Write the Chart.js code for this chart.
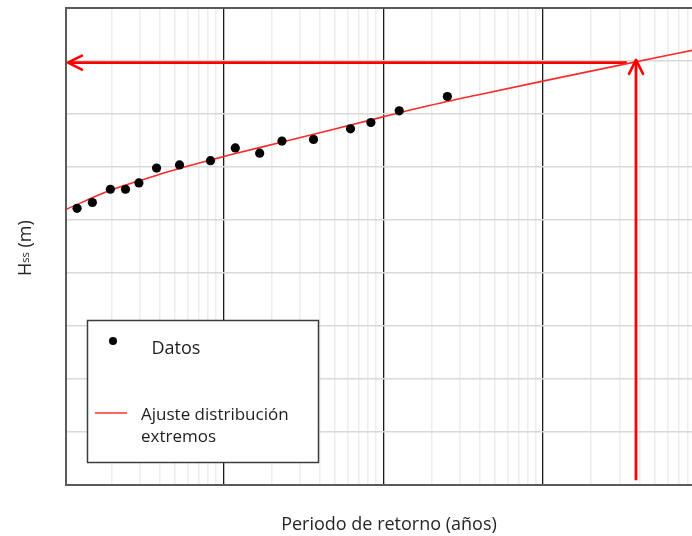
<!DOCTYPE html>
<html>
<head>
<meta charset="utf-8">
<script src="https://cdn.jsdelivr.net/npm/chart.js@4/dist/chart.umd.min.js"></script>
<style>
    html, body { margin: 0; padding: 0; background: #fff; }
    #wrap { width: 692px; height: 536px; }
</style>
</head>
<body>
<div id="wrap"><canvas id="myChart" width="692" height="536"></canvas></div>
<script>
//---------------data
const datos_T = [1.22, 1.52, 1.97, 2.45, 2.97, 3.83, 5.33, 8.33, 11.9, 16.9, 23.3, 36.7, 62.5, 83.8, 126, 252];
const datos_H = [5.22, 5.33, 5.58, 5.58, 5.70, 5.98, 6.04, 6.12, 6.36, 6.26, 6.49, 6.52, 6.72, 6.84, 7.06, 7.33];

const ajuste_T = [1.04, 1.97, 2.99, 3.81, 5.31, 8.29, 11.4, 23.4, 101, 183, 376, 1030, 3350, 8530];
const ajuste_H = [5.20, 5.56, 5.74, 5.84, 5.97, 6.13, 6.24, 6.47, 6.95, 7.14, 7.35, 7.63, 7.95, 8.20];

// reading arrows (return period -> Hs)
const flecha_h_T = [3340, 1.07];
const flecha_h_H = [7.97, 7.97];
const flecha_v_T = [3810, 3810];
const flecha_v_H = [0.09, 8.02];

const x_decadas = [1, 10, 100, 1000];
const x_menores = [2, 3, 4, 5, 6, 7, 8, 9];

const txt_x = 'Periodo de retorno (años)';
const txt_y = ['H', 'ss', ' (m)'];
const txt_datos = 'Datos';
const txt_ajuste = ['Ajuste distribución', 'extremos'];

function pares(xs, ys) {
    return xs.map((x, i) => ({ x: x, y: ys[i] }));
}

function es_decada(v) {
    const l = Math.log10(v);
    return Math.abs(l - Math.round(l)) < 1e-6;
}

// ----------arrow heads, legend box and axis titles
const extras = {
    id: 'extras',
    afterDatasetsDraw(chart) {
        const ctx = chart.ctx;
        chart.data.datasets.forEach((ds, i) => {
            if (!ds.flecha) return;
            const pts = chart.getDatasetMeta(i).data;
            const a = pts[pts.length - 2];
            const b = pts[pts.length - 1];
            const ang = Math.atan2(b.y - a.y, b.x - a.x);
            const c = Math.cos(ang), s = Math.sin(ang);
            ctx.save();
            ctx.strokeStyle = ds.borderColor;
            ctx.lineWidth = 2.6;
            ctx.lineCap = 'round';
            ctx.lineJoin = 'round';
            ctx.beginPath();
            ctx.moveTo(b.x - 14 * c + 7 * s, b.y - 14 * s - 7 * c);
            ctx.lineTo(b.x, b.y);
            ctx.lineTo(b.x - 14 * c - 7 * s, b.y - 14 * s + 7 * c);
            ctx.stroke();
            ctx.restore();
        });
    },
    afterDraw(chart) {
        const ctx = chart.ctx;
        const area = chart.chartArea;
        ctx.save();

        // legend box
        const lx = area.left + 21, ly = area.top + 312;
        ctx.fillStyle = '#fff';
        ctx.fillRect(lx, ly, 232, 143);
        ctx.strokeStyle = '#3c3c3c';
        ctx.lineWidth = 1.5;
        ctx.strokeRect(lx + 0.5, ly + 0.5, 231, 142);

        ctx.fillStyle = '#000';
        ctx.beginPath();
        ctx.arc(lx + 26, ly + 21, 4, 0, Math.PI * 2);
        ctx.fill();

        ctx.fillStyle = '#1e1e1e';
        ctx.textBaseline = 'alphabetic';
        ctx.textAlign = 'left';
        ctx.font = '18px "Open Sans"';
        ctx.fillText(txt_datos, lx + 64.5, ly + 34);

        ctx.strokeStyle = '#ff3030';
        ctx.lineWidth = 1.5;
        ctx.beginPath();
        ctx.moveTo(lx + 8, ly + 93);
        ctx.lineTo(lx + 40, ly + 93);
        ctx.stroke();

        ctx.font = '17px "Open Sans"';
        ctx.fillText(txt_ajuste[0], lx + 54, ly + 99.5);
        ctx.fillText(txt_ajuste[1], lx + 54, ly + 121.5);

        // x title
        ctx.fillStyle = '#262626';
        ctx.font = '18px "Open Sans"';
        ctx.textAlign = 'center';
        ctx.fillText(txt_x, 389, 529.5);

        // y title, H with small ss
        ctx.textAlign = 'left';
        ctx.translate(30.5, 276);
        ctx.rotate(-Math.PI / 2);
        ctx.font = '18px "Open Sans"';
        ctx.fillText(txt_y[0], 0, 0);
        let w = ctx.measureText(txt_y[0]).width;
        ctx.font = '11px "Open Sans"';
        ctx.fillText(txt_y[1], w, -2);
        w += ctx.measureText(txt_y[1]).width;
        ctx.font = '18px "Open Sans"';
        ctx.fillText(txt_y[2], w, 0);

        ctx.restore();
    }
};

const config = {
    type: 'scatter',
    data: {
        datasets: [{
            label: txt_ajuste.join(' '),
            data: pares(ajuste_T, ajuste_H),
            showLine: true,
            borderColor: '#ff2a2a',
            borderWidth: 1.6,
            pointRadius: 0,
            cubicInterpolationMode: 'monotone',
            order: 3,
        }, {
            label: 'flecha horizontal',
            data: pares(flecha_h_T, flecha_h_H),
            showLine: true,
            flecha: true,
            borderColor: '#ff0000',
            borderWidth: 2.8,
            pointRadius: 0,
            order: 4,
        }, {
            label: 'flecha vertical',
            data: pares(flecha_v_T, flecha_v_H),
            showLine: true,
            flecha: true,
            borderColor: '#ff0000',
            borderWidth: 2.8,
            pointRadius: 0,
            order: 4,
        }, {
            label: txt_datos,
            data: pares(datos_T, datos_H),
            pointRadius: 4.6,
            pointBackgroundColor: '#000',
            pointBorderWidth: 0,
            order: 1,
        }]
    },
    options: {
        responsive: false,
        animation: false,
        layout: { autoPadding: false, padding: { top: 8, right: 0, left: 0, bottom: 0 } },
        plugins: {
            legend: { display: false },
            tooltip: { enabled: false },
        },
        scales: {
            x: {
                type: 'logarithmic',
                min: 1.04,
                max: 8530,
                ticks: { display: false },
                afterBuildTicks: (axis) => {
                    const t = [];
                    x_decadas.forEach(d => {
                        t.push({ value: d });
                        x_menores.forEach(m => t.push({ value: d * m }));
                    });
                    axis.ticks = t.filter(k => k.value >= axis.min && k.value <= axis.max);
                },
                afterFit: (s) => { s.height = 51; },
                grid: {
                    drawTicks: false,
                    color: (c) => (c.tick && es_decada(c.tick.value)) ? '#1a1a1a' : '#ededed',
                    lineWidth: (c) => (c.tick && es_decada(c.tick.value)) ? 1.3 : 1.5,
                },
                border: { display: true, color: '#5a5a5a', width: 2 },
            },
            y: {
                min: 0,
                max: 9,
                ticks: { display: false, stepSize: 1 },
                afterFit: (s) => { s.width = 66; },
                grid: {
                    drawTicks: false,
                    color: (c) => (c.tick && c.tick.value === 9) ? '#5a5a5a' : '#d9d9d9',
                    lineWidth: (c) => (c.tick && c.tick.value === 9) ? 2 : 1.5,
                },
                border: { display: true, color: '#5a5a5a', width: 2 },
            }
        }
    },
    plugins: [extras]
};

const myChart = new Chart(document.getElementById('myChart'), config);
</script>
</body>
</html>
